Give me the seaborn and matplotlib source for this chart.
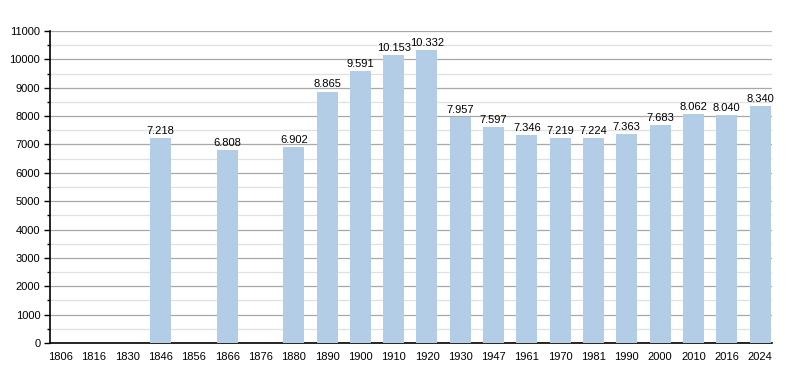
import numpy as np
import pandas as pd
import seaborn as sns
import matplotlib.pyplot as plt
from matplotlib.ticker import MultipleLocator

years = ["1806", "1816", "1830", "1846", "1856", "1866", "1876", "1880", "1890",
         "1900", "1910", "1920", "1930", "1947", "1961", "1970", "1981", "1990",
         "2000", "2010", "2016", "2024"]
population = [np.nan, np.nan, np.nan, 7218, np.nan, 6808, np.nan, 6902, 8865,
              9591, 10153, 10332, 7957, 7597, 7346, 7219, 7224, 7363,
              7683, 8062, 8040, 8340]

df = pd.DataFrame({"year": years, "pop": population})

sns.set_style("white")
plt.rcParams['font.family'] = ['Liberation Sans', 'DejaVu Sans']
plt.rcParams['text.color'] = 'black'
plt.rcParams['xtick.color'] = 'black'
plt.rcParams['ytick.color'] = 'black'

fig = plt.figure(figsize=(8, 3.73), dpi=100)
ax = fig.add_axes([0.0625, 0.0804, 0.9025, 0.8366])

sns.barplot(data=df, x="year", y="pop", order=years, color="#b3cde6",
            saturation=1, width=0.63, linewidth=0, ax=ax, zorder=3)

ax.set_ylim(0, 11000)
ax.set_xlim(-0.32, 21.36)
ax.yaxis.set_major_locator(MultipleLocator(1000))
ax.yaxis.set_minor_locator(MultipleLocator(500))
ax.grid(axis="y", which="major", color="#a8a8a8", linewidth=0.9, zorder=0)
ax.grid(axis="y", which="minor", color="#e0e0e0", linewidth=0.9, zorder=0)
ax.set_axisbelow(True)

for s in ["top", "right"]:
    ax.spines[s].set_visible(False)
ax.spines["left"].set_color("black")
ax.spines["bottom"].set_color("black")
ax.spines["left"].set_linewidth(1.2)
ax.spines["bottom"].set_linewidth(1.2)

ax.tick_params(axis="y", which="major", left=True, length=4, width=1, labelsize=8, pad=3)
ax.tick_params(axis="y", which="minor", left=True, length=2, width=1)
ax.tick_params(axis="x", bottom=False, labelsize=8, pad=3)
ax.set_xlabel("")
ax.set_ylabel("")

# value labels with dot as thousands separator
for bar in ax.patches:
    cx = bar.get_x() + bar.get_width() / 2
    v = population[int(round(cx))]
    if np.isnan(v):
        continue
    ax.annotate(f"{int(v):,}".replace(",", "."), (cx, bar.get_height()),
                xytext=(0, 1.5), textcoords="offset points",
                ha="center", va="bottom", fontsize=8, color="black")

fig.savefig("out.png", dpi=100)
